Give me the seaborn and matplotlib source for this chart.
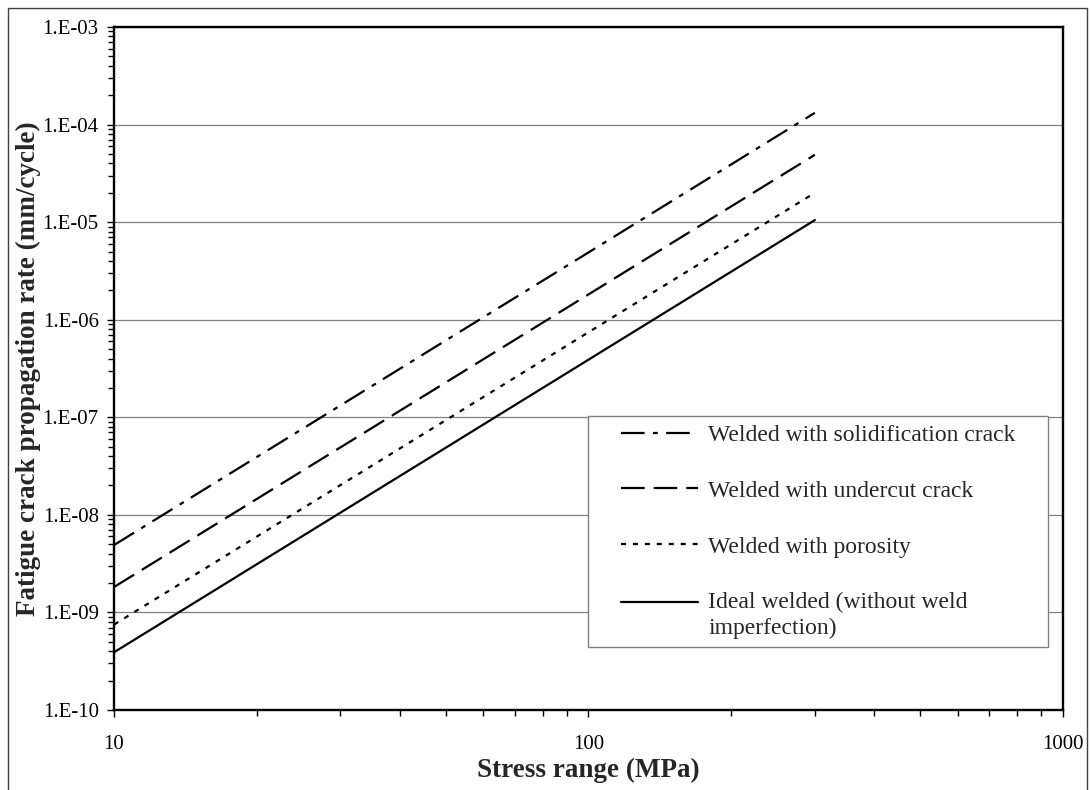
import numpy as np
import pandas as pd
import matplotlib
matplotlib.use("Agg")
import matplotlib.pyplot as plt
import seaborn as sns
from matplotlib.ticker import LogLocator, FuncFormatter, NullFormatter, FixedLocator
from matplotlib.patches import Rectangle

# Fatigue crack propagation rate vs. stress range (Paris-law lines, log-log)
stress_range = [10, 300]
solidification_crack = [4.9e-9, 1.32e-4]
undercut_crack = [1.82e-9, 4.9e-5]
porosity = [7.5e-10, 2.0e-5]
ideal_welded = [3.9e-10, 1.05e-5]

series_labels = [
    "Welded with solidification crack",
    "Welded with undercut crack",
    "Welded with porosity",
    "Ideal welded (without weld\nimperfection)",
]
series_values = [solidification_crack, undercut_crack, porosity, ideal_welded]

x_ticks = [10, 100, 1000]
y_ticks = [1e-10, 1e-9, 1e-8, 1e-7, 1e-6, 1e-5, 1e-4, 1e-3]

df = pd.concat(
    [pd.DataFrame({"stress": stress_range, "rate": vals, "series": lab})
     for lab, vals in zip(series_labels, series_values)],
    ignore_index=True,
)

sns.set_style("white")
plt.rcParams.update({
    "font.family": ["Liberation Serif", "DejaVu Serif"],
    "lines.scale_dashes": False,
    "axes.unicode_minus": False,
})

fig = plt.figure(figsize=(10.91, 7.9), dpi=100)
ax = fig.add_axes([0.1045, 0.1013, 0.8698, 0.8645])

dash_styles = {
    series_labels[0]: (17, 6, 3.5, 6),
    series_labels[1]: (17, 6.5),
    series_labels[2]: (3.6, 5),
    series_labels[3]: "",
}

sns.lineplot(
    data=df, x="stress", y="rate", hue="series", style="series",
    hue_order=series_labels, style_order=series_labels,
    palette={lab: "black" for lab in series_labels},
    dashes=dash_styles, linewidth=1.6, legend=False,
    estimator=None, sort=False, ax=ax,
)

ax.set_xscale("log")
ax.set_yscale("log")
ax.set_xlim(x_ticks[0], x_ticks[-1])
ax.set_ylim(y_ticks[0], y_ticks[-1])

ax.xaxis.set_major_locator(FixedLocator(x_ticks))
ax.yaxis.set_major_locator(FixedLocator(y_ticks))
ax.xaxis.set_minor_locator(LogLocator(base=10, subs=np.arange(2, 10), numticks=10))
ax.yaxis.set_minor_locator(LogLocator(base=10, subs=np.arange(2, 10), numticks=20))
ax.xaxis.set_major_formatter(FuncFormatter(lambda v, p: f"{v:.0f}"))
ax.yaxis.set_major_formatter(
    FuncFormatter(lambda v, p: f"1.E{int(round(np.log10(v))):+03d}"))
ax.xaxis.set_minor_formatter(NullFormatter())
ax.yaxis.set_minor_formatter(NullFormatter())

ax.tick_params(which="major", direction="out", length=5, width=1,
               labelsize=15, colors="black", left=True, bottom=True)
ax.tick_params(axis="y", which="major", pad=6)
ax.tick_params(axis="x", which="major", pad=13)
ax.tick_params(which="minor", direction="out", length=4, width=1,
               left=True, bottom=True, colors="black")

ax.yaxis.grid(True, which="major", color="#808080", linewidth=0.9)
ax.xaxis.grid(False)
ax.set_axisbelow(True)

for side in ["left", "right", "top", "bottom"]:
    ax.spines[side].set_visible(True)
    ax.spines[side].set_color("black")
    ax.spines[side].set_linewidth(1.7)

ax.set_xlabel("Stress range (MPa)", fontsize=19.5, fontweight="bold", labelpad=3)
ax.set_ylabel("Fatigue crack propagation rate (mm/cycle)", fontsize=19.5,
              fontweight="bold", labelpad=1)

legend_font = 17
leg = ax.legend(
    handles=ax.lines[:4], labels=series_labels,
    loc="upper left", bbox_to_anchor=(0.499, 0.098, 0.485, 0.3325),
    mode="expand", borderaxespad=0,
    frameon=True, fancybox=False, framealpha=1, edgecolor="#808080",
    fontsize=legend_font, handlelength=4.3, handletextpad=0.45,
    labelspacing=1.45, borderpad=0.36,
)
leg.get_frame().set_linewidth(1.0)
leg.texts[3].set_linespacing(1.3)

# leave a wider left margin inside the box before each handle sample
indent = 18.0
for h in leg.legend_handles:
    xd = np.asarray(h.get_xdata(), dtype=float)
    h.set_xdata(np.linspace(xd.min() + indent, xd.max(), len(xd)))
# put the last handle level with the first line of its two-line label
last = leg.legend_handles[3]
last.set_ydata(np.asarray(last.get_ydata(), dtype=float) + 9.5)

# thin border around the whole figure
fig.add_artist(Rectangle((8 / 1091, -0.05), (1087 - 8) / 1091, 1 - 8 / 790 + 0.05,
                         transform=fig.transFigure, fill=False,
                         edgecolor="#404040", linewidth=1.0))

fig.savefig("out.png", dpi=100)
